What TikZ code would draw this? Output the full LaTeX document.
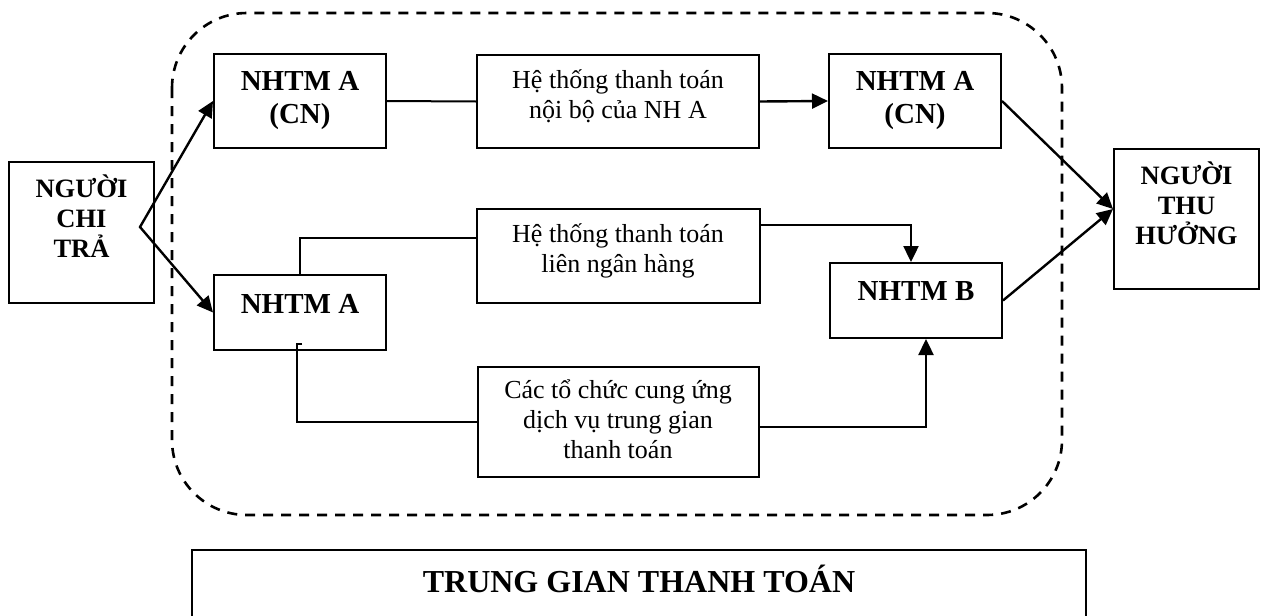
\documentclass[tikz,border=0pt]{standalone}
\usepackage{fontspec}
\setmainfont{Liberation Serif}
\usetikzlibrary{arrows.meta,calc}
\begin{document}
\begin{tikzpicture}[x=1pt,y=-1pt,
  box/.style={draw, line width=2pt, rectangle, inner sep=0pt},
  boldtxt/.style={font=\bfseries\fontsize{29}{33}\selectfont, align=center, inner sep=0pt},
  sidetxt/.style={font=\bfseries\fontsize{26.5}{30}\selectfont, align=center, inner sep=0pt},
  plaintxt/.style={font=\fontsize{26}{30}\selectfont, align=center, inner sep=0pt},
  titletxt/.style={font=\bfseries\fontsize{32}{36}\selectfont, inner sep=0pt},
  link/.style={line width=2pt},
  flow/.style={line width=2.4pt, -{Triangle[length=16pt,width=15pt]}},
  twoway/.style={line width=2.4pt, {Triangle[length=16pt,width=15pt]}-{Triangle[length=16pt,width=15pt]}},
  zone/.style={draw, line width=2.6pt, dash pattern=on 10pt off 8pt, rounded corners=75pt},
]
\useasboundingbox (0,0) rectangle (1262,616);

% dashed area of the payment intermediaries
\draw[zone] (172,13) rectangle (1062,515);

% payer and payee
\node[box, minimum width=145pt, minimum height=141pt] (payer) at (81.5,232.5) {};
\node[sidetxt] (payertxt) at (81.5,216.5) {NGƯỜI\\CHI\\TRẢ};
\node[box, minimum width=145pt, minimum height=140pt] (payee) at (1186.5,219) {};
\node[sidetxt] (payeetxt) at (1186.5,203.5) {NGƯỜI\\THU\\HƯỞNG};

% banks
\node[box, minimum width=172pt, minimum height=94pt] (cnA) at (300,101) {};
\node[boldtxt] (cnAtxt) at (300,101) {NHTM A\\(CN)};
\node[box, minimum width=172pt, minimum height=94pt] (cnB) at (915,101) {};
\node[boldtxt] (cnBtxt) at (915,101) {NHTM A\\(CN)};
\node[box, minimum width=172pt, minimum height=75pt] (bankA) at (300,312.5) {};
\node[boldtxt, anchor=base] (bankAtxt) at (300,313) {NHTM A};
\node[box, minimum width=172pt, minimum height=75pt] (bankB) at (916,300.5) {};
\node[boldtxt, anchor=base] (bankBtxt) at (916,300) {NHTM B};

% payment systems
\node[box, minimum width=282pt, minimum height=93pt] (inner) at (618,101.5) {};
\node[plaintxt] (innertxt) at (618,96) {Hệ thống thanh toán\\nội bộ của NH A};
\node[box, minimum width=283pt, minimum height=94pt] (inter) at (618,256) {};
\node[plaintxt] (intertxt) at (618,250.5) {Hệ thống thanh toán\\liên ngân hàng};
\node[box, minimum width=281pt, minimum height=110pt] (svc) at (618,422) {};
\node[plaintxt] (svctxt) at (618,419.5) {Các tổ chức cung ứng\\dịch vụ trung gian\\thanh toán};

% caption box, open at the lower page edge
\node[box, minimum width=894pt, minimum height=70pt] (cap) at (639,585) {};
\node[titletxt, anchor=base] (captxt) at (639,592) {TRUNG GIAN THANH TOÁN};

% connectors
\coordinate (split) at (140,227);
\coordinate (merge) at ($(payee.west)+(0,-10)$);
\draw[twoway] (cnA.west) -- (split) -- (bankA.west);
\draw[link] (cnA.east) -- (inner.west);
\draw[flow] (inner.east) -- (cnB.west);
\draw[flow] (cnB.east) -- (merge);
\draw[flow] (bankB.east) -- (merge);
\draw[link] (bankA.north) |- ($(inter.north west)+(0,30)$);
\draw[flow] ($(inter.north east)+(0,17)$) -| ($(bankB.north)+(-5,0)$);
\draw[link] ($(bankA.south)+(2,-7)$) -- ++(-5,0) |- (svc.west);
\draw[flow] ($(svc.east)+(0,5)$) -| ($(bankB.south)+(10,0)$);
\end{tikzpicture}
\end{document}
